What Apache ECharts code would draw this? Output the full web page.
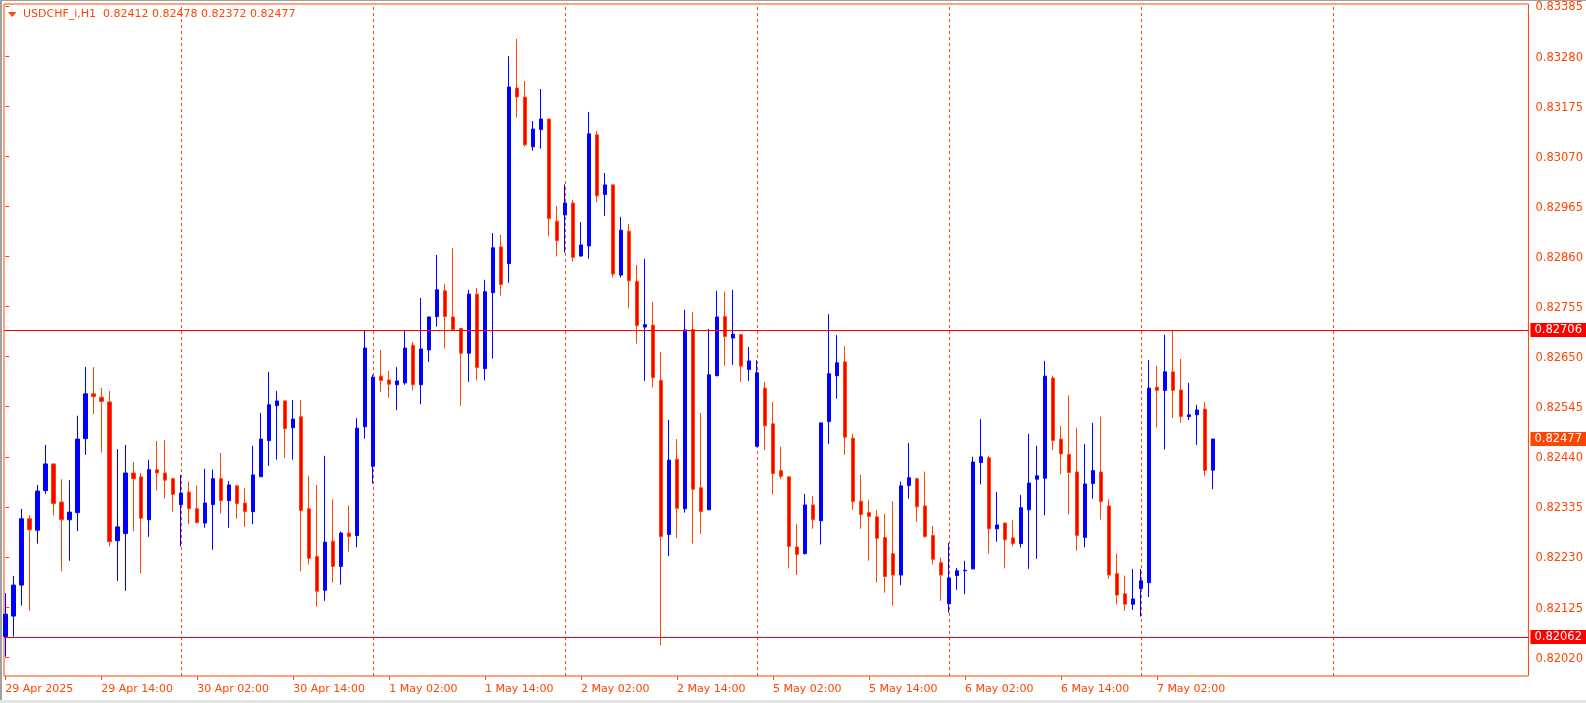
<!DOCTYPE html>
<html><head><meta charset="utf-8">
<script src="https://cdn.jsdelivr.net/npm/echarts@6/dist/echarts.min.js"></script>
<style>
html,body{margin:0;padding:0;background:#fff;overflow:hidden}
#c{position:absolute;left:0;top:0;width:1586px;height:703px}
.f{position:absolute;pointer-events:none}
</style></head><body>
<div id="c"></div>
<div class="f" style="left:0;top:0;width:1586px;height:1px;background:#a0a0a0"></div>
<div class="f" style="left:0;top:0;width:2px;height:703px;background:#a0a0a0"></div>
<div class="f" style="left:0;top:700px;width:1586px;height:3px;background:#e3e3e3"></div>
<script>
const symbolName = 'USDCHF_i,H1';
const opens = [0.82063,0.82106,0.82171,0.82310,0.82286,0.82369,0.82425,0.82345,0.82308,0.82323,
0.82478,0.82572,0.82565,0.82555,0.82264,0.82279,0.82406,0.82398,0.82308,0.82413,
0.82406,0.82394,0.82340,0.82366,0.82331,0.82301,0.82340,0.82394,0.82348,0.82379,
0.82343,0.82325,0.82398,0.82474,0.82547,0.82557,0.82501,0.82524,0.82331,0.82231,
0.82160,0.82263,0.82210,0.82280,0.82275,0.82503,0.82420,0.82609,0.82601,0.82591,
0.82595,0.82674,0.82591,0.82664,0.82734,0.82788,0.82733,0.82709,0.82657,0.82781,
0.82625,0.82784,0.82880,0.82845,0.83213,0.83194,0.83090,0.83126,0.83148,0.82934,
0.82947,0.82972,0.82861,0.82882,0.83115,0.82990,0.83010,0.82821,0.82913,0.82808,
0.82712,0.82716,0.82600,0.82277,0.82435,0.82331,0.82707,0.82375,0.82329,0.82610,
0.82734,0.82689,0.82696,0.82623,0.82462,0.82584,0.82509,0.82411,0.82398,0.82251,
0.82237,0.82339,0.82306,0.82514,0.82610,0.82639,0.82479,0.82347,0.82323,0.82314,
0.82271,0.82237,0.82192,0.82380,0.82394,0.82337,0.82275,0.82218,0.82132,0.82191,
0.82201,0.82205,0.82428,0.82438,0.82289,0.82301,0.82270,0.82258,0.82329,0.82393,
0.82395,0.82605,0.82477,0.82445,0.82408,0.82271,0.82384,0.82408,0.82337,0.82195,
0.82153,0.82131,0.82164,0.82176,0.82586,0.82579,0.82618,0.82580,0.82524,0.82528,
0.82540,0.82412];
const highs = [0.82154,0.82190,0.82331,0.82318,0.82381,0.82465,0.82426,0.82393,0.82391,0.82526,
0.82628,0.82628,0.82584,0.82578,0.82456,0.82465,0.82429,0.82406,0.82434,0.82473,
0.82475,0.82396,0.82402,0.82388,0.82380,0.82415,0.82413,0.82448,0.82389,0.82381,
0.82375,0.82463,0.82532,0.82618,0.82578,0.82559,0.82559,0.82559,0.82400,0.82381,
0.82442,0.82351,0.82283,0.82338,0.82521,0.82705,0.82612,0.82664,0.82620,0.82628,
0.82706,0.82681,0.82773,0.82734,0.82863,0.82802,0.82878,0.82710,0.82790,0.82794,
0.82811,0.82909,0.82905,0.83280,0.83316,0.83228,0.83144,0.83211,0.83149,0.82966,
0.83011,0.82978,0.82932,0.83163,0.83123,0.83035,0.83012,0.82943,0.82928,0.82842,
0.82855,0.82765,0.82660,0.82517,0.82477,0.82748,0.82744,0.82532,0.82708,0.82788,
0.82786,0.82790,0.82697,0.82670,0.82642,0.82597,0.82555,0.82461,0.82399,0.82299,
0.82362,0.82358,0.82512,0.82739,0.82695,0.82672,0.82488,0.82402,0.82349,0.82328,
0.82320,0.82347,0.82388,0.82469,0.82396,0.82409,0.82295,0.82229,0.82259,0.82207,
0.82222,0.82440,0.82519,0.82442,0.82366,0.82302,0.82307,0.82360,0.82488,0.82463,
0.82641,0.82610,0.82505,0.82569,0.82500,0.82467,0.82511,0.82524,0.82351,0.82237,
0.82191,0.82205,0.82205,0.82643,0.82631,0.82696,0.82706,0.82645,0.82595,0.82549,
0.82555,0.82478];
const lows = [0.82021,0.82063,0.82128,0.82117,0.82258,0.82362,0.82317,0.82200,0.82222,0.82284,
0.82444,0.82530,0.82449,0.82252,0.82180,0.82159,0.82284,0.82196,0.82272,0.82369,
0.82352,0.82325,0.82252,0.82299,0.82300,0.82291,0.82245,0.82321,0.82291,0.82310,
0.82293,0.82299,0.82398,0.82421,0.82434,0.82438,0.82434,0.82200,0.82214,0.82126,
0.82138,0.82176,0.82172,0.82241,0.82250,0.82478,0.82384,0.82576,0.82564,0.82538,
0.82591,0.82579,0.82550,0.82639,0.82713,0.82667,0.82706,0.82547,0.82597,0.82600,
0.82600,0.82646,0.82778,0.82805,0.83151,0.83090,0.83082,0.83086,0.82902,0.82860,
0.82868,0.82849,0.82859,0.82855,0.82974,0.82945,0.82816,0.82816,0.82751,0.82677,
0.82599,0.82585,0.82045,0.82232,0.82270,0.82323,0.82258,0.82278,0.82328,0.82609,
0.82631,0.82633,0.82597,0.82599,0.82460,0.82454,0.82361,0.82393,0.82206,0.82192,
0.82235,0.82289,0.82256,0.82467,0.82562,0.82444,0.82329,0.82289,0.82222,0.82176,
0.82155,0.82128,0.82171,0.82352,0.82304,0.82270,0.82214,0.82138,0.82113,0.82161,
0.82152,0.82204,0.82382,0.82237,0.82262,0.82206,0.82252,0.82250,0.82205,0.82226,
0.82317,0.82454,0.82404,0.82319,0.82243,0.82250,0.82352,0.82308,0.82184,0.82130,
0.82117,0.82119,0.82105,0.82146,0.82501,0.82455,0.82521,0.82511,0.82517,0.82465,
0.82400,0.82372];
const closes = [0.82110,0.82171,0.82310,0.82287,0.82368,0.82425,0.82342,0.82308,0.82324,0.82477,
0.82572,0.82566,0.82556,0.82262,0.82293,0.82406,0.82394,0.82311,0.82413,0.82406,
0.82391,0.82361,0.82364,0.82331,0.82302,0.82343,0.82394,0.82348,0.82381,0.82342,
0.82325,0.82402,0.82477,0.82549,0.82557,0.82499,0.82519,0.82327,0.82227,0.82158,
0.82261,0.82210,0.82280,0.82273,0.82500,0.82668,0.82607,0.82600,0.82592,0.82599,
0.82668,0.82591,0.82666,0.82733,0.82790,0.82734,0.82707,0.82657,0.82781,0.82627,
0.82786,0.82878,0.82801,0.83215,0.83194,0.83094,0.83127,0.83148,0.82939,0.82893,
0.82972,0.82858,0.82884,0.83117,0.82987,0.83010,0.82823,0.82915,0.82809,0.82715,
0.82717,0.82606,0.82273,0.82433,0.82332,0.82706,0.82372,0.82325,0.82612,0.82733,
0.82692,0.82697,0.82630,0.82641,0.82616,0.82505,0.82405,0.82399,0.82252,0.82235,
0.82339,0.82308,0.82511,0.82614,0.82637,0.82481,0.82346,0.82319,0.82315,0.82269,
0.82189,0.82192,0.82379,0.82396,0.82335,0.82273,0.82225,0.82192,0.82186,0.82201,
0.82202,0.82429,0.82440,0.82289,0.82297,0.82266,0.82258,0.82333,0.82385,0.82400,
0.82609,0.82474,0.82446,0.82407,0.82275,0.82383,0.82411,0.82346,0.82192,0.82150,
0.82131,0.82142,0.82180,0.82584,0.82579,0.82618,0.82579,0.82524,0.82528,0.82538,
0.82411,0.82477];

const xTickIndex = [0,12,24,36,48,60,72,84,96,108,120,132,144];
const xTickLabels = ['29 Apr 2025','29 Apr 14:00','30 Apr 02:00','30 Apr 14:00','1 May 02:00','1 May 14:00',
  '2 May 02:00','2 May 14:00','5 May 02:00','5 May 14:00','6 May 02:00','6 May 14:00','7 May 02:00'];
const dayBreaks = [22,46,70,94,118,142,166];
const yTicks = [0.83385,0.83280,0.83175,0.83070,0.82965,0.82860,0.82755,0.82650,0.82545,0.82440,0.82335,0.82230,0.82125,0.82020];
const levels = [0.82706, 0.82062];
const bidPrice = 0.82477;

const FG = '#FF4500';
const FONT = 'DejaVu Sans';
const candles = opens.map((o, i) => [i, o, closes[i], lows[i], highs[i]]);
const last = opens.length - 1;
const header = symbolName + '  ' + [opens[last], highs[last], lows[last], closes[last]].map(v => v.toFixed(5)).join(' ');

const chart = echarts.init(document.getElementById('c'), null, {renderer: 'canvas'});
const tagLabel = (v, bg) => ({show: true, position: 'end', distance: 2, formatter: v.toFixed(5), color: '#fff',
  backgroundColor: bg, fontFamily: FONT, fontSize: 11.5, lineHeight: 13, padding: [1, 6, 0, 4]});
const vLines = dayBreaks.map(v => ({xAxis: v}));
const hLines = levels.map(v => ({yAxis: v, label: tagLabel(v, '#FF0000')}));
hLines.push({yAxis: bidPrice, lineStyle: {color: 'rgba(255,255,255,0)', width: 1}, label: tagLabel(bidPrice, FG)});

chart.setOption({
  animation: false,
  backgroundColor: '#fff',
  grid: {left: 4, right: 57, top: 4, bottom: 27, show: true, borderColor: FG, borderWidth: 1, backgroundColor: '#fff'},
  xAxis: {
    type: 'value', min: -0.1625, max: 190.4625,
    axisLine: {show: false}, splitLine: {show: false},
    axisTick: {show: true, customValues: xTickIndex, length: 4, lineStyle: {color: FG}},
    axisLabel: {show: true, customValues: xTickIndex, align: 'left', margin: 8, color: FG, fontFamily: FONT, fontSize: 11,
      formatter: v => xTickLabels[xTickIndex.indexOf(Math.round(v))] || ''}
  },
  yAxis: {
    type: 'value', position: 'right', min: 0.819804, max: 0.833892, scale: true,
    axisLine: {show: false}, splitLine: {show: false},
    axisTick: {show: true, customValues: yTicks, length: 4, inside: false, lineStyle: {color: FG}},
    axisLabel: {show: true, customValues: yTicks, margin: 7, color: FG, fontFamily: FONT, fontSize: 11.5,
      formatter: v => '{a|' + v.toFixed(5) + '}',
      rich: {a: {color: FG, fontFamily: FONT, fontSize: 11.5, padding: [3, 0, 0, 0]}}}
  },
  graphic: [
    {type: 'polygon', shape: {points: [[8, 12], [16.5, 12], [12.25, 17]]}, style: {fill: FG}, silent: true},
    {type: 'text', x: 23, y: 14.5, style: {text: header, fill: FG, font: '11px "DejaVu Sans"', textVerticalAlign: 'middle'}, silent: true}
  ],
  series: [
    {
      type: 'line', data: [], silent: true, z: 0,
      markLine: {silent: true, z: 0, symbol: ['none', 'none'], animation: false, precision: 5,
        lineStyle: {type: [3, 3], color: FG, width: 1}, label: {show: false}, data: vLines}
    },
    {
      type: 'candlestick', z: 3,
      data: candles,
      encode: {x: 0, y: [1, 2, 3, 4]},
      barWidth: 4,
      itemStyle: {color: '#0000FF', color0: '#FF0000', borderColor: '#0000FF', borderColor0: FG, borderWidth: 1}
    },
    {
      type: 'line', data: [], silent: true, z: 5,
      markLine: {silent: true, z: 5, symbol: ['none', 'none'], animation: false, precision: 5,
        lineStyle: {type: 'solid', color: '#FF0000', width: 1}, data: hLines}
    }
  ]
});
</script>
</body></html>
